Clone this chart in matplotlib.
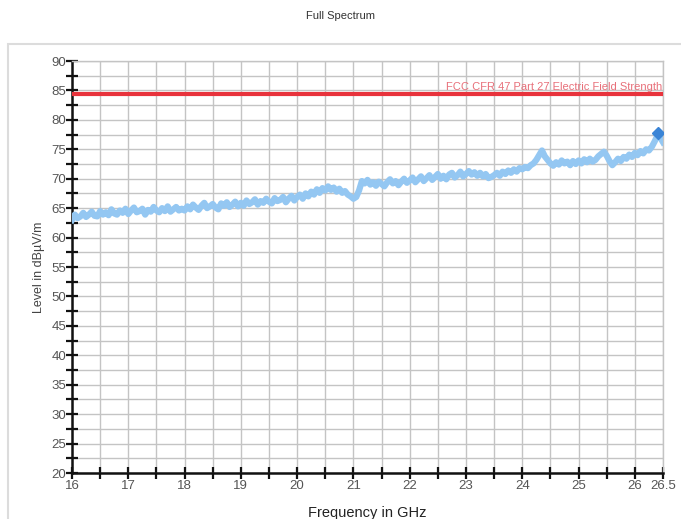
import numpy as np
import matplotlib
matplotlib.use('Agg')
import matplotlib.pyplot as plt
from matplotlib.patches import Rectangle

plt.rcParams['font.family'] = ['Liberation Sans', 'DejaVu Sans']

# measured trace, 0.05 GHz steps from 16.0 to 26.5 GHz
freq_start = 16.0
freq_step = 0.05
level = [
    63.0, 63.9, 63.3, 63.6, 64.2, 63.5, 63.9, 64.4, 63.7, 63.6, 64.5, 63.9, 64.3, 63.8, 64.8, 64.1, 63.9, 64.6, 64.2, 64.9,
    64.0, 64.6, 65.1, 64.3, 64.5, 64.9, 63.9, 64.7, 64.4, 65.2, 64.6, 64.3, 65.0, 64.5, 65.3, 64.4, 64.8, 65.2, 64.6, 64.9,
    64.6, 65.3, 64.8, 65.6, 65.1, 64.7, 65.4, 65.9, 65.0, 65.3, 65.7, 65.1, 64.8, 65.8, 65.4, 66.0, 65.2, 65.6, 66.1, 65.3,
    65.9, 65.4, 66.3, 65.7, 66.0, 66.5, 65.6, 66.2, 65.9, 66.6, 66.1, 65.8, 66.7, 66.2, 66.4, 66.9, 66.0, 66.6, 67.1, 66.3,
    66.9, 67.3, 66.6, 67.5, 67.0, 67.8, 67.3, 68.2, 67.6, 68.4, 68.0, 68.7, 68.1, 68.5, 67.8, 68.3, 67.6, 67.9, 67.3, 67.0,
    66.6, 66.9, 68.0, 69.6, 69.2, 69.8, 69.0, 69.4, 68.8, 69.5, 69.1, 68.7, 69.4, 69.9, 69.2, 69.6, 68.9, 69.5, 70.0, 69.3,
    69.7, 70.2, 69.4, 69.9, 70.4, 69.6, 70.1, 70.6, 69.8, 70.3, 70.8, 70.0, 70.5, 69.9, 70.7, 71.0, 70.2, 70.6, 71.2, 70.4,
    70.8, 71.3, 70.7, 71.1, 70.5, 71.0, 70.4, 70.8, 70.1, 70.3, 70.6, 71.0, 70.5, 71.2, 70.8, 71.4, 71.0, 71.6, 71.2, 71.8,
    71.6, 72.0, 71.8, 72.3, 72.6, 73.2, 74.0, 74.8, 73.8, 73.2, 72.6, 72.2, 72.8, 72.4, 73.1, 72.6, 72.9, 72.3, 73.0, 72.5,
    73.1, 72.6, 73.3, 72.8, 73.4, 72.9, 73.2, 73.8, 74.2, 74.6, 73.9, 73.0, 72.3, 72.8, 73.4, 73.0, 73.7, 73.4, 74.1, 73.7,
    74.4, 74.0, 74.7, 74.3, 75.0, 74.8, 75.4, 76.3, 77.3, 77.0, 76.2]
freq = freq_start + freq_step * np.arange(len(level))

peak_freq = [26.42]
peak_level = [77.7]

limit_level = 84.4
limit_label = 'FCC CFR 47 Part 27 Electric Field Strength'

x_ticks = [16, 17, 18, 19, 20, 21, 22, 23, 24, 25, 26, 26.5]
x_tick_labels = ['16', '17', '18', '19', '20', '21', '22', '23', '24', '25', '26', '26.5']
y_ticks = [20, 25, 30, 35, 40, 45, 50, 55, 60, 65, 70, 75, 80, 85, 90]

fig = plt.figure(figsize=(6.81, 5.19), dpi=100)
fig.patches.append(Rectangle((8 / 681, -0.1), 1.0, 1 - 44 / 519 + 0.1, transform=fig.transFigure,
                             fill=False, edgecolor='#dcdcdc', lw=1.5))
ax = fig.add_axes([72 / 681, 1 - 473 / 519, 591 / 681, 412 / 519])

ax.set_xlim(16, 26.5)
ax.set_ylim(20, 90)

ax.set_xticks(np.arange(16, 26.51, 0.5), minor=True)
ax.set_yticks(np.arange(20, 90.1, 2.5), minor=True)
ax.set_xticks(x_ticks)
ax.set_xticklabels(x_tick_labels)
ax.set_yticks(y_ticks)
ax.grid(True, which='both', color='#c4c4c4', lw=1)
ax.set_axisbelow(True)

ax.tick_params(which='both', direction='inout', length=8, width=1.6, color='#111111',
               labelsize=9.5, labelcolor='#555555', pad=1, top=False, right=False)
ax.tick_params(axis='y', pad=0)
for s in ['left', 'bottom']:
    ax.spines[s].set_linewidth(1.8)
    ax.spines[s].set_color('#111111')
for s in ['top', 'right']:
    ax.spines[s].set_color('#c4c4c4')
    ax.spines[s].set_linewidth(1)

ax.axhline(limit_level, color='#e8333c', lw=3, zorder=3)
ax.text(26.48, limit_level + 0.3, limit_label, color='#e8707a', fontsize=8,
        ha='right', va='bottom')

ax.plot(freq, level, color='#94c7f2', lw=4.5, zorder=4)
ax.plot(peak_freq, peak_level, 'D', color='#3a84d6', ms=6, zorder=5)

ax.set_ylabel('Level in dBµV/m', fontsize=9, color='#444444', labelpad=5)
ax.set_xlabel('Frequency in GHz', fontsize=10.5, color='#222222', labelpad=10)
fig.text(0.5, 1 - 16 / 519, 'Full Spectrum', ha='center', va='center', fontsize=8,
         color='#333333')

fig.savefig('out.png', dpi=100)
